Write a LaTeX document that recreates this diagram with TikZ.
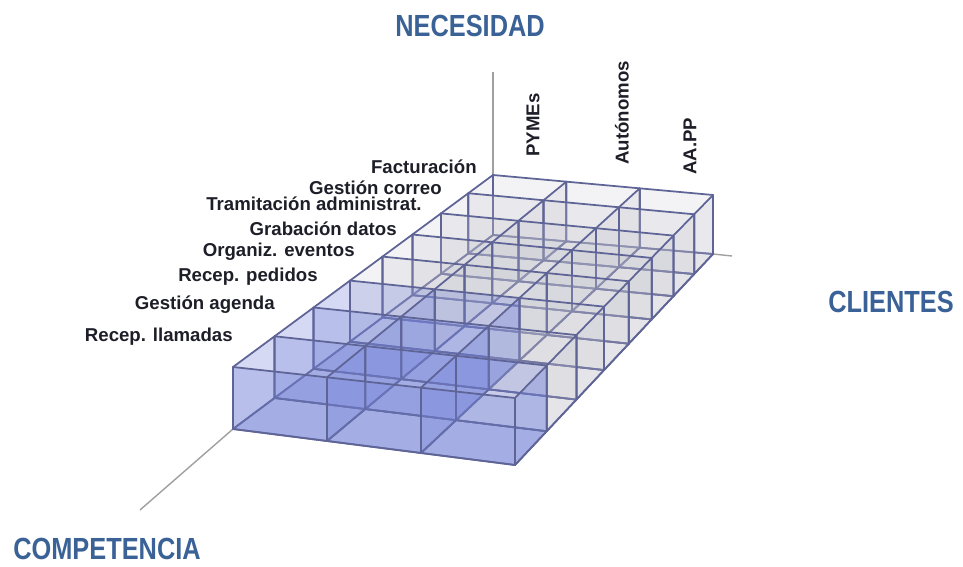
\documentclass[tikz,border=0pt]{standalone}
\usepackage{fontspec}
\setmainfont{Liberation Sans}
\newfontfamily\axisfont[FakeStretch=0.83]{Liberation Sans}
\usetikzlibrary{calc}
\definecolor{axisblue}{RGB}{58,98,150}
\definecolor{edge}{RGB}{95,100,150}
\definecolor{bluecell}{RGB}{115,130,215}
\definecolor{greycell}{RGB}{195,195,205}
\definecolor{axisline}{RGB}{160,160,160}
\definecolor{labeltext}{RGB}{30,30,40}
\begin{document}
\begin{tikzpicture}[x=0.02cm,y=-0.02cm,
  title/.style={font=\axisfont\fontsize{17.4}{20}\selectfont\bfseries,text=axisblue,inner sep=0},
  rowlabel/.style={font=\fontsize{10.6}{12}\selectfont\bfseries,text=labeltext,anchor=base east,inner sep=0},
  collabel/.style={rowlabel,rotate=90,anchor=west},
  axis/.style={draw=axisline,line width=.8pt},
  wall/.style={fill=#1,draw=edge,line width=1pt,line join=round},
  declare function={blue(\a,\b)=(\a>=0)*(\a<2)*(\b>=0)*(\b<3)+(\a==2)*(\b==0);}]
\useasboundingbox (0,0) rectangle (963,567);

\coordinate (flt) at (233,367);
\coordinate (frt) at (515,398);
\coordinate (blt) at (493,175);
\coordinate (brt) at (713,195);
\coordinate (flb) at (233,429);
\coordinate (frb) at (515,465);
\coordinate (blb) at (493,235);
\coordinate (brb) at (713,254);

\foreach \i/\u in {0/0,1/.3333,2/.6667,3/1}
{
    \coordinate (ft\i) at ($(flt)!\u!(frt)$);
    \coordinate (bt\i) at ($(blt)!\u!(brt)$);
    \coordinate (fb\i) at ($(flb)!\u!(frb)$);
    \coordinate (bb\i) at ($(blb)!\u!(brb)$);
    \foreach \j/\v in {0/0,1/.16,2/.31,3/.45,4/.575,5/.69,6/.80,7/.905,8/1}
    {
        \coordinate (t-\i-\j) at ($(ft\i)!\v!(bt\i)$);
        \coordinate (b-\i-\j) at ($(fb\i)!\v!(bb\i)$);
    }
}

\coordinate (necTop) at (493,72);
\coordinate (compEnd) at (140,510);
\coordinate (cliEnd) at (732,256);
\draw[axis] (b-0-8)--(necTop);
\draw[axis] (b-0-0)--(compEnd);
\draw[axis] (b-3-8)--(cliEnd);

\foreach \i in {0,1,2}
\foreach \j in {0,...,7}
{
    \pgfmathtruncatemacro\k{\i+1}
    \pgfmathtruncatemacro\m{\j+1}
    \pgfmathtruncatemacro\isblue{blue(\i,\j)}
    \ifnum\isblue=1 \def\cc{bluecell}\def\op{.5}\else\def\cc{greycell}\def\op{.3}\fi
    \draw[wall=\cc,fill opacity=\op] (b-\i-\j)--(b-\k-\j)--(b-\k-\m)--(b-\i-\m)--cycle;
}

\foreach \j in {8,7,...,0}
{
    \foreach \i in {0,1,2}
    {
        \pgfmathtruncatemacro\k{\i+1}
        \pgfmathtruncatemacro\isblue{max(blue(\i,\j),blue(\i,\j-1))}
        \ifnum\isblue=1 \def\cc{bluecell}\def\op{.3}\else\def\cc{greycell}\def\op{.2}\fi
        \draw[wall=\cc,fill opacity=\op] (b-\i-\j)--(b-\k-\j)--(t-\k-\j)--(t-\i-\j)--cycle;
    }
    \ifnum\j>0
        \pgfmathtruncatemacro\m{\j-1}
        \foreach \i in {0,...,3}
        {
            \pgfmathtruncatemacro\isblue{max(blue(\i,\m),blue(\i-1,\m))}
            \ifnum\isblue=1 \def\cc{bluecell}\def\op{.3}\else\def\cc{greycell}\def\op{.2}\fi
            \draw[wall=\cc,fill opacity=\op] (b-\i-\m)--(b-\i-\j)--(t-\i-\j)--(t-\i-\m)--cycle;
        }
    \fi
}

\node[title] (nec) at (470,26) {NECESIDAD};
\node[title] (cli) at (891,302) {CLIENTES};
\node[title] (comp) at (107,549) {COMPETENCIA};

\node[rowlabel] (r1) at (233,341) {Recep. llamadas};
\node[rowlabel] (r2) at (275,310) {Gestión agenda};
\node[rowlabel] (r3) at (318,282) {Recep. pedidos};
\node[rowlabel] (r4) at (355,257) {Organiz. eventos};
\node[rowlabel] (r5) at (397,236) {Grabación datos};
\node[rowlabel] (r6) at (422,211) {Tramitación administrat.};
\node[rowlabel] (r7) at (442,195) {Gestión correo};
\node[rowlabel] (r8) at (477,174) {Facturación};

\node[collabel] (c1) at (533,157) {PYMEs};
\node[collabel] (c2) at (622,165) {Autónomos};
\node[collabel] (c3) at (690,175) {AA.PP};

\end{tikzpicture}
\end{document}
